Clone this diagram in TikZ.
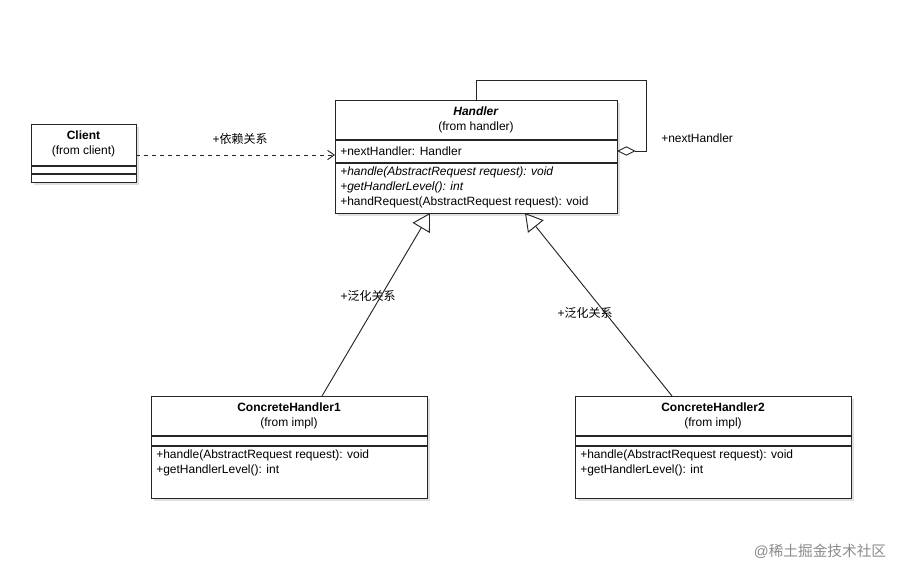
\documentclass[tikz,border=0pt]{standalone}
\usepackage{fontspec}
\setmainfont{Liberation Sans}
\newfontfamily\cjk{Noto Sans CJK SC}
\usetikzlibrary{arrows.meta}
\begin{document}
\begin{tikzpicture}[x=0.75pt,y=-0.75pt,font=\fontsize{9}{11.25}\selectfont,
  box/.style={draw=black!85,line width=0.8pt,fill=white,inner sep=0,anchor=north west},
  sep/.style={draw=black!85,line width=0.8pt},
  txt/.style={inner sep=0,anchor=west},
  lbl/.style={inner sep=0,font=\fontsize{9}{11}\selectfont},
  conn/.style={line width=0.7pt,black!85}]
\useasboundingbox[fill=white] (0,0) rectangle (919,579);
% shadows
\foreach \a/\b/\c/\d in {335/100/617/213,31/124/136/182,151/396/427/498,575/396/851/498}
  \fill[black!12] (\a+3,\b+3) rectangle (\c+3,\d+3);
% Handler
\node[box,minimum width=282*0.75pt,minimum height=113*0.75pt] (h) at (335,100) {};
\draw[sep] (335,140) -- (617,140);
\draw[sep] (335,163) -- (617,163);
\node[inner sep=0,align=center] (ht) at (476,120) {\textbf{\textit{Handler}}\\(from handler)};
\node[txt] (ha) at (340,151) {+nextHandler: Handler};
\node[txt,align=left,anchor=north west] (hm) at (340,167) {\textit{+handle(AbstractRequest request): void}\\\textit{+getHandlerLevel(): int}\\+handRequest(AbstractRequest request): void};
% Client
\node[box,minimum width=105*0.75pt,minimum height=58*0.75pt] (c) at (31,124) {};
\draw[sep] (31,166) -- (136,166);
\draw[sep] (31,174) -- (136,174);
\node[inner sep=0,align=center] (ct) at (83.5,144) {\textbf{Client}\\(from client)};
% CH1
\node[box,minimum width=276*0.75pt,minimum height=102*0.75pt] (c1) at (151,396) {};
\draw[sep] (151,436) -- (427,436);
\draw[sep] (151,446) -- (427,446);
\node[inner sep=0,align=center] (c1t) at (289,416) {\textbf{ConcreteHandler1}\\(from impl)};
\node[txt,align=left,anchor=north west] (c1m) at (156,450) {+handle(AbstractRequest request): void\\+getHandlerLevel(): int};
% CH2
\node[box,minimum width=276*0.75pt,minimum height=102*0.75pt] (c2) at (575,396) {};
\draw[sep] (575,436) -- (851,436);
\draw[sep] (575,446) -- (851,446);
\node[inner sep=0,align=center] (c2t) at (713,416) {\textbf{ConcreteHandler2}\\(from impl)};
\node[txt,align=left,anchor=north west] (c2m) at (580,450) {+handle(AbstractRequest request): void\\+getHandlerLevel(): int};
% connector coordinates
\coordinate (hdep) at (335,155);
\coordinate (cdep) at (136,155);
\coordinate (htop) at (476,100);
\coordinate (hr) at (617,151);
\coordinate (hg1) at (430,213);
\coordinate (hg2) at (525,213);
\coordinate (c1top) at (322,396);
\coordinate (c2top) at (672,396);
% dependency
\draw[conn,dashed,-{Straight Barb[length=5pt,width=7pt]}] (cdep) -- (hdep);
\node[lbl] (dl) at (240,139) {+{\cjk 依赖关系}};
% self association
\draw[conn,{Diamond[open,length=14pt,width=7pt]}-] (hr) -- (646,151) -- (646,80) -- (476,80) -- (htop);
\node[lbl,anchor=west] (nh) at (661,138) {+nextHandler};
% generalizations
\draw[conn,-{Triangle[open,length=13pt,width=15pt]}] (c1top) -- (hg1);
\draw[conn,-{Triangle[open,length=13pt,width=15pt]}] (c2top) -- (hg2);
\node[lbl] (g1) at (368,296) {+{\cjk 泛化关系}};
\node[lbl] (g2) at (585,313) {+{\cjk 泛化关系}};
% watermark
\node[inner sep=0,text=black!45,font=\fontsize{11}{13}\selectfont] (wm) at (820,551) {@{\cjk 稀土掘金技术社区}};
\end{tikzpicture}
\end{document}
